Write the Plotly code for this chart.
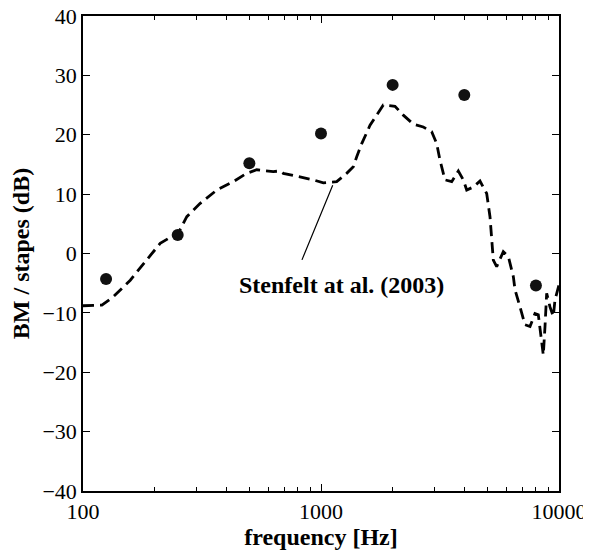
import math
import plotly.graph_objects as go

# Measured points (dots)
meas_freq = [125, 250, 500, 1000, 2000, 4000, 8000]
meas_db = [-4.3, 3.1, 15.2, 20.2, 28.4, 26.7, -5.4]

# Stenfelt et al. (2003) dashed curve
st_freq = [100, 120, 134, 158, 185, 211, 232, 251, 273, 310, 365, 428, 487, 537,
           630, 672, 694, 816, 928, 1023, 1164, 1282, 1367, 1413, 1483, 1607,
           1827, 2046, 2217, 2442, 2690, 2918, 3063, 3162, 3319, 3542, 3776,
           3963, 4095, 4365, 4656, 4968, 5129, 5297, 5472, 5834, 6125, 6430,
           6534, 6857, 7197, 7554, 7928, 8186, 8318, 8590, 8733, 8876, 9165,
           9464, 9620, 10000]
st_db = [-8.8, -8.7, -7.3, -4.5, -1.1, 1.7, 2.7, 3.4, 6.2, 8.4, 10.7, 12.1, 13.5, 14.1,
         13.8, 13.9, 13.5, 12.9, 12.4, 11.9, 12.1, 13.5, 14.6, 16.3, 18.5, 21.6,
         25.0, 24.8, 23.3, 21.8, 21.3, 20.5, 18.5, 15.7, 12.4, 12.1, 13.9,
         12.4, 10.7, 11.2, 12.2, 10.1, 6.2, -1.1, -2.2, 0.3, -0.5, -3.9,
         -6.1, -9.0, -12.0, -12.3, -10.1, -10.3, -12.9, -17.1, -12.3, -6.7, -9.0,
         -10.6, -7.8, -5.3]

x_ticks = [100, 1000, 10000]
x_minor = [200, 300, 400, 500, 600, 700, 800, 900,
           2000, 3000, 4000, 5000, 6000, 7000, 8000, 9000]
y_ticks = [-40, -30, -20, -10, 0, 10, 20, 30, 40]

label_text = "Stenfelt at al. (2003)"
label_pos = (1225, -5.3)
leader_tip = (1120, 11.5)
leader_tail = (808, -2.3)

FONT = "Liberation Serif, Times New Roman, serif"

fig = go.Figure()
fig.add_trace(go.Scatter(x=st_freq, y=st_db, mode="lines",
                         line=dict(color="black", width=2.8, dash="11px,6px"),
                         showlegend=False))
fig.add_trace(go.Scatter(x=meas_freq, y=meas_db, mode="markers",
                         marker=dict(color="#111111", size=12, line=dict(width=0)),
                         showlegend=False))

fig.add_annotation(x=math.log10(leader_tip[0]), y=leader_tip[1],
                   ax=math.log10(leader_tail[0]), ay=leader_tail[1],
                   axref="x", ayref="y", xref="x", yref="y",
                   text=" ", showarrow=True, arrowhead=0, arrowwidth=1.2,
                   arrowcolor="black", standoff=0, startstandoff=0)
fig.add_annotation(x=math.log10(label_pos[0]), y=label_pos[1], xref="x", yref="y",
                   text="<b>" + label_text + "</b>", showarrow=False,
                   font=dict(family=FONT, size=24, color="black"))

axis_common = dict(showline=True, linecolor="black", linewidth=1.5, mirror="ticks",
                   ticks="inside", ticklen=7, tickwidth=1.2, tickcolor="black",
                   showgrid=False, zeroline=False, automargin=False,
                   ticklabeloverflow="allow",
                   tickfont=dict(family=FONT, size=22, color="black"))

fig.update_xaxes(type="log", range=[2, 4], tickvals=x_ticks,
                 ticktext=[str(v) for v in x_ticks],
                 minor=dict(tickvals=x_minor, ticks="inside", ticklen=4,
                            tickcolor="black", tickwidth=1, showgrid=False),
                 title=dict(text="<b>frequency [Hz]</b>", standoff=2,
                            font=dict(family=FONT, size=24, color="black")),
                 **axis_common)
fig.update_yaxes(range=[-40, 40], tickvals=y_ticks,
                 title=dict(text="<b>BM / stapes (dB)</b>", standoff=8,
                            font=dict(family=FONT, size=24, color="black")),
                 **axis_common)

# page body adds an 8 px offset; size the figure to fit the 591x553 window
fig.update_layout(width=583, height=545, autosize=False,
                  margin=dict(l=75, r=32, t=8, b=62),
                  plot_bgcolor="white", paper_bgcolor="white")

fig.write_html("out.html")
